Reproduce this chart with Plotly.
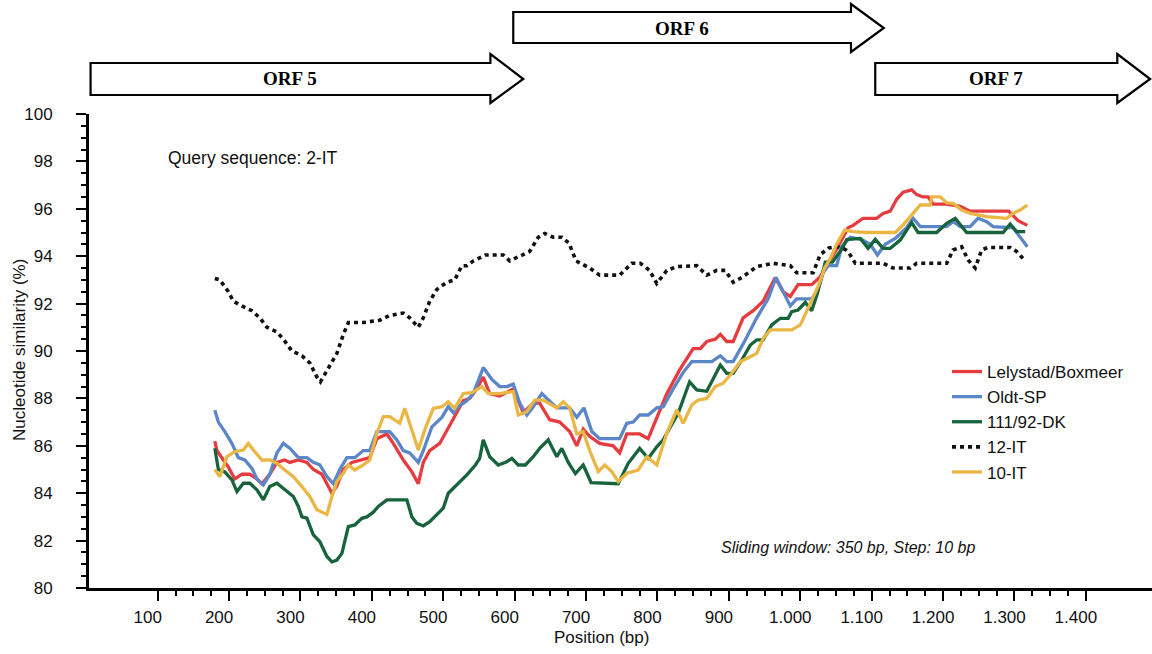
import numpy as np
import plotly.graph_objects as go

# ---------------- data ----------------
x_lely = [180, 183, 192, 199, 208, 218, 229, 239, 246, 257, 267, 278, 285, 297, 309, 318, 330, 337, 344, 351,
          360, 372, 383, 397, 407, 421, 430, 444, 456, 465, 472, 481, 495, 514, 528, 537, 547, 556, 565, 579,
          598, 612, 626, 635, 649, 663, 677, 687, 696, 705, 719, 738, 747, 757, 775, 787, 799, 813, 831, 843,
          850, 860, 869, 881, 888, 897, 906, 920, 934, 948, 965, 976, 986, 997, 1016, 1027, 1037, 1051, 1067, 1074,
          1088, 1107, 1116, 1126, 1135, 1144, 1156, 1163, 1172, 1179, 1186, 1205, 1224, 1238, 1292, 1305, 1318]
y_lely = [86.2, 85.8, 85.4, 85.1, 84.6, 84.8, 84.8, 84.6, 84.4, 84.8, 85.3, 85.4, 85.3, 85.4, 85.3, 85.0, 84.8, 84.4, 84.0, 84.3,
          85.0, 85.3, 85.4, 85.5, 86.3, 86.5, 86.1, 85.4, 84.9, 84.4, 85.3, 85.8, 86.1, 87.1, 87.9, 88.0, 88.4, 88.9, 88.2, 88.1,
          88.4, 87.4, 87.8, 87.8, 87.1, 87.0, 86.6, 86.0, 86.7, 86.4, 86.1, 86.0, 85.7, 86.5, 86.5, 86.3, 87.2, 88.2, 89.2, 89.8,
          90.1, 90.1, 90.4, 90.5, 90.7, 90.4, 90.4, 91.4, 91.7, 92.1, 93.1, 92.5, 92.3, 92.8, 92.8, 93.1, 93.6, 94.3, 95.2, 95.3,
          95.6, 95.6, 95.8, 95.9, 96.4, 96.7, 96.8, 96.6, 96.5, 96.5, 96.2, 96.2, 96.1, 95.9, 95.9, 95.5, 95.3]

x_oldt = [180, 185, 194, 204, 213, 222, 232, 239, 248, 257, 267, 276, 285, 297, 309, 318, 327, 337, 346, 355,
          365, 376, 388, 397, 407, 425, 435, 444, 453, 465, 472, 484, 498, 507, 514, 523, 533, 542, 556, 568,
          579, 589, 598, 607, 617, 626, 638, 645, 659, 677, 687, 697, 708, 719, 747, 757, 766, 775, 787, 799,
          808, 822, 836, 848, 876, 888, 897, 906, 920, 939, 955, 966, 976, 986, 995, 1016, 1025, 1032, 1039, 1051,
          1058, 1070, 1086, 1098, 1108, 1119, 1133, 1149, 1158, 1168, 1205, 1214, 1224, 1238, 1249, 1261, 1270, 1298,
          1308, 1318]
y_oldt = [87.5, 87.0, 86.6, 86.1, 85.5, 85.4, 85.05, 84.6, 84.35, 84.8, 85.7, 86.1, 85.9, 85.5, 85.5, 85.3, 85.2, 84.7, 84.4, 85.0,
          85.5, 85.5, 85.8, 85.8, 86.6, 86.6, 86.25, 85.8, 85.7, 85.3, 85.8, 86.8, 87.2, 87.65, 87.4, 87.7, 87.9, 88.2, 89.3, 88.8,
          88.5, 88.5, 88.6, 87.8, 87.3, 87.65, 88.2, 88.0, 87.6, 87.6, 87.2, 87.6, 86.6, 86.3, 86.3, 86.95, 87.0, 87.3, 87.3, 87.6,
          87.65, 88.4, 89.1, 89.55, 89.55, 89.8, 89.55, 89.55, 90.3, 91.4, 92.2, 93.1, 92.5, 91.9, 92.2, 92.2, 92.6, 93.3, 93.6, 93.6,
          94.4, 94.8, 94.7, 94.5, 94.05, 94.5, 94.75, 95.2, 95.6, 95.25, 95.25, 95.46, 95.25, 95.25, 95.6, 95.46, 95.25, 95.2,
          94.8, 94.4]

x_dk = [180, 185, 194, 204, 211, 220, 229, 239, 248, 257, 267, 278, 290, 297, 302, 309, 318, 327, 337, 344,
        351, 358, 367, 376, 386, 393, 402, 409, 421, 449, 456, 463, 472, 481, 491, 500, 507, 519, 533, 545,
        551, 556, 565, 577, 589, 596, 605, 615, 626, 635, 647, 659, 666, 675, 685, 696, 707, 745, 759, 775,
        787, 799, 808, 817, 829, 845, 855, 869, 888, 897, 906, 918, 930, 939, 948, 960, 972, 983, 988, 997,
        1007, 1016, 1024, 1035, 1045, 1058, 1065, 1084, 1095, 1105, 1116, 1126, 1140, 1156, 1165, 1191, 1205, 1217,
        1233, 1284, 1294, 1303, 1315]
y_dk = [85.9, 85.0, 84.9, 84.56, 84.07, 84.42, 84.42, 84.14, 83.72, 84.28, 84.42, 84.14, 83.86, 83.44, 83.0, 82.95, 82.24, 81.96, 81.33, 81.1,
        81.18, 81.46, 82.59, 82.66, 82.94, 83.0, 83.2, 83.44, 83.72, 83.72, 83.0, 82.73, 82.62, 82.8, 83.08, 83.37, 84.0, 84.35, 84.77, 85.19,
        85.47, 86.25, 85.54, 85.19, 85.33, 85.47, 85.19, 85.19, 85.54, 85.89, 86.25, 85.54, 85.89, 85.3, 84.83, 85.19, 84.45, 84.4, 85.26, 85.89,
        85.47, 85.96, 86.25, 86.74, 87.37, 88.7, 88.36, 88.3, 89.41, 89.06, 89.06, 89.62, 90.25, 90.47, 90.47, 91.1, 91.38, 91.38, 91.66, 91.73,
        92.05, 91.7, 92.43, 93.75, 93.75, 94.3, 94.7, 94.75, 94.33, 94.71, 94.33, 94.33, 94.68, 95.42, 95.0, 95.0, 95.39, 95.6,
        95.0, 95.0, 95.36, 95.04, 95.04]

x_12it = [180, 187, 199, 206, 218, 232, 243, 253, 267, 276, 288, 302, 313, 323, 328, 337, 351, 360, 367, 388,
          411, 425, 444, 453, 465, 472, 481, 491, 505, 516, 526, 533, 542, 559, 584, 593, 607, 621, 633, 642,
          654, 666, 676, 686, 705, 719, 747, 764, 776, 789, 799, 813, 827, 855, 869, 883, 895, 906, 918, 939,
          962, 986, 995, 1009, 1018, 1028, 1040, 1051, 1062, 1067, 1077, 1116, 1130, 1154, 1163, 1205, 1214, 1226, 1235, 1245,
          1254, 1263, 1294, 1303, 1315]
y_12it = [93.06, 93.0, 92.5, 92.1, 91.9, 91.7, 91.4, 91.0, 90.8, 90.5, 90.0, 89.8, 89.5, 88.9, 88.7, 89.2, 89.9, 90.7, 91.2, 91.2,
          91.3, 91.5, 91.6, 91.4, 91.0, 91.4, 92.1, 92.6, 92.9, 93.0, 93.6, 93.6, 93.8, 94.05, 94.05, 93.8, 94.0, 94.2, 94.8, 94.96,
          94.8, 94.8, 94.55, 93.8, 93.5, 93.2, 93.2, 93.7, 93.7, 93.4, 92.85, 93.4, 93.56, 93.6, 93.2, 93.4, 93.4, 92.9, 93.1, 93.56,
          93.7, 93.6, 93.3, 93.28, 93.3, 94.07, 94.35, 94.4, 94.3, 94.2, 93.7, 93.7, 93.5, 93.5, 93.7, 93.7, 94.26, 94.4, 93.84, 93.5,
          94.26, 94.37, 94.37, 94.2, 93.8]

x_10it = [180, 187, 197, 208, 220, 227, 234, 246, 257, 267, 278, 290, 302, 313, 323, 337, 344, 351, 360, 367,
          376, 388, 397, 407, 416, 425, 439, 446, 456, 465, 474, 486, 498, 507, 516, 528, 540, 554, 563, 579,
          598, 605, 617, 628, 640, 659, 668, 677, 687, 696, 705, 717, 726, 736, 745, 757, 773, 785, 799, 813,
          827, 836, 848, 857, 869, 881, 892, 904, 916, 930, 939, 948, 958, 988, 1000, 1014, 1026, 1034, 1042, 1051,
          1062, 1074, 1093, 1133, 1144, 1158, 1168, 1182, 1184, 1196, 1205, 1214, 1226, 1238, 1261, 1289, 1298, 1308, 1318]
y_10it = [85.0, 84.7, 85.54, 85.75, 85.82, 86.1, 85.82, 85.4, 85.4, 85.26, 84.98, 84.7, 84.28, 83.86, 83.3, 83.1, 83.86, 84.49, 84.84, 85.19,
          84.98, 85.19, 85.4, 86.53, 87.23, 87.23, 86.95, 87.58, 86.67, 85.82, 86.67, 87.58, 87.65, 87.86, 87.58, 88.2, 88.24, 88.5, 88.2, 88.2,
          88.29, 87.3, 87.44, 87.93, 87.93, 87.6, 87.86, 87.6, 86.5, 86.6, 85.8, 84.91, 85.19, 84.91, 84.49, 84.84, 84.98, 85.54, 85.19, 86.53,
          87.51, 86.95, 87.72, 87.93, 88.0, 88.5, 88.64, 89.06, 89.55, 89.76, 89.9, 90.53, 90.89, 90.89, 91.1, 92.0, 92.8, 93.5, 93.9, 94.5,
          95.1, 95.04, 95.0, 95.0, 95.32, 95.81, 96.16, 96.16, 96.5, 96.5, 96.26, 96.23, 95.95, 95.81, 95.67, 95.6, 95.81, 95.95, 96.16]

series_names = ["Lelystad/Boxmeer", "Oldt-SP", "111/92-DK", "12-IT", "10-IT"]

orf_names = ["ORF 5", "ORF 6", "ORF 7"]
orf_start = [6, 598, 1105]
orf_end = [612, 1117, 1490]
orf_row = ["lower", "upper", "lower"]

x_tickvals = [100, 200, 300, 400, 500, 600, 700, 800, 900, 1000, 1100, 1200, 1300, 1400]
x_ticktext = ["100", "200", "300", "400", "500", "600", "700", "800", "900",
              "1.000", "1.100", "1.200", "1.300", "1.400"]
y_tickvals = [80, 82, 84, 86, 88, 90, 92, 94, 96, 98, 100]

# ---------------- styling ----------------
W, H = 1152, 654
ML, MR, MT, MB = 89, 0, 114, 66
PLOT_H = H - MT - MB
FONT = "Liberation Sans, Arial, sans-serif"
SERIF = "Liberation Serif, Times New Roman, serif"


def py2paper(py):
    return (H - MB - py) / PLOT_H


def px2paper(px):
    return (px - ML) / (W - ML - MR)


colors = {"Lelystad/Boxmeer": "#e63c3f", "Oldt-SP": "#5b86c8", "111/92-DK": "#17643c",
          "12-IT": "#111111", "10-IT": "#eab744"}
xs = [x_lely, x_oldt, x_dk, x_12it, x_10it]
ys = [y_lely, y_oldt, y_dk, y_12it, y_10it]

fig = go.Figure()
for name, xv, yv in zip(series_names, xs, ys):
    dotted = name == "12-IT"
    fig.add_trace(go.Scatter(
        x=xv, y=yv, mode="lines", name=name, legendgroup=name,
        line=dict(color=colors[name], width=3.6 if dotted else 3.3,
                  dash="4px,4px" if dotted else "solid"),
    ))

# ORF arrows
rows = {"lower": dict(bt=63, bb=95, ht=54, hb=103, mid=79),
        "upper": dict(bt=12, bb=43, ht=4, hb=52, mid=28)}
head_len = 46
shapes = []
annotations = []
for name, s, e, r in zip(orf_names, orf_start, orf_end, orf_row):
    g = rows[r]
    hs = e - head_len
    bt, bb, ht, hb, mid = (py2paper(g[k]) for k in ("bt", "bb", "ht", "hb", "mid"))
    path = (f"M {s},{bb} L {hs},{bb} L {hs},{hb} L {e},{mid} "
            f"L {hs},{ht} L {hs},{bt} L {s},{bt} Z")
    shapes.append(dict(type="path", path=path, xref="x", yref="paper",
                       line=dict(color="black", width=2.2), fillcolor="white", layer="above"))
    annotations.append(dict(x=(s + hs) / 2, y=mid, xref="x", yref="paper", text=f"<b>{name}</b>",
                            showarrow=False, font=dict(family=SERIF, size=19, color="black"),
                            xanchor="center", yanchor="middle"))

annotations += [
    dict(x=px2paper(166), y=py2paper(158), xref="paper", yref="paper", text="Query sequence: 2-IT",
         showarrow=False, xanchor="left", yanchor="middle", font=dict(family=FONT, size=17.5, color="#111")),
    dict(x=px2paper(848), y=py2paper(547), xref="paper", yref="paper",
         text="<i>Sliding window: 350 bp, Step: 10 bp</i>",
         showarrow=False, xanchor="center", yanchor="middle", font=dict(family=FONT, size=16, color="#111")),
    dict(x=px2paper(19), y=py2paper(350), xref="paper", yref="paper", text="Nucleotide similarity (%)",
         textangle=-90, showarrow=False, xanchor="center", yanchor="middle",
         font=dict(family=FONT, size=17, color="#111")),
    dict(x=px2paper(601), y=py2paper(637), xref="paper", yref="paper", text="Position (bp)",
         showarrow=False, xanchor="center", yanchor="middle", font=dict(family=FONT, size=17, color="#111")),
]

x_minor = [v for v in np.arange(125, 1400, 25) if v % 100 != 0]
y_minor = [v for v in np.arange(80.5, 100, 0.5) if v % 2 != 0]

fig.update_layout(
    width=W, height=H, margin=dict(l=ML, r=MR, t=MT, b=MB, pad=0),
    paper_bgcolor="white", plot_bgcolor="white",
    font=dict(family=FONT, size=17, color="#111"),
    shapes=shapes, annotations=annotations,
    showlegend=True,
    legend=dict(x=px2paper(947), y=py2paper(354), xanchor="left", yanchor="top",
                bgcolor="rgba(0,0,0,0)", font=dict(family=FONT, size=17, color="#111"),
                itemwidth=30, tracegroupgap=0, traceorder="grouped"),
    xaxis=dict(range=[3.8, 1492.6], showgrid=False, zeroline=False,
               showline=True, linecolor="black", linewidth=3,
               tickmode="array", tickvals=x_tickvals, ticktext=x_ticktext,
               ticks="outside", ticklen=10, tickwidth=2, tickcolor="black",
               ticklabelshift=-10, ticklabelstandoff=2,
               tickfont=dict(family=FONT, size=17, color="#111"),
               minor=dict(tickmode="array", tickvals=x_minor, ticks="outside",
                          ticklen=5, tickwidth=1.5, tickcolor="black")),
    yaxis=dict(range=[80, 100], showgrid=False, zeroline=False,
               showline=True, linecolor="black", linewidth=3,
               tickmode="array", tickvals=y_tickvals,
               ticks="outside", ticklen=10, tickwidth=2, tickcolor="black",
               ticklabelstandoff=20,
               tickfont=dict(family=FONT, size=17, color="#111"),
               minor=dict(tickmode="array", tickvals=y_minor, ticks="outside",
                          ticklen=5, tickwidth=1.5, tickcolor="black")),
)

# remove the default 8px page margin so the figure sits at the window origin
fig.write_html("out.html",
               config={"displayModeBar": False},
               post_script="document.body.style.margin='0';document.body.style.overflow='hidden';")
